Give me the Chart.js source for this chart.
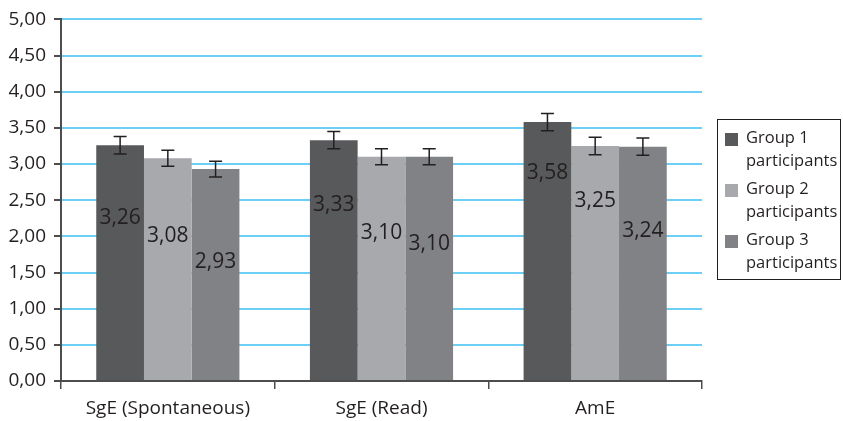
<!DOCTYPE html>
<html>
<head>
<meta charset="utf-8">
<script src="https://cdn.jsdelivr.net/npm/chart.js@4"></script>
<style>
  body { margin: 0; background: #fff; }
  #wrap { position: relative; width: 843px; height: 421px; }
  #legend {
    position: absolute; left: 717px; top: 119px; width: 124px; height: 161px;
    border: 1px solid #231f20; box-sizing: border-box;
    font-family: 'Open Sans', sans-serif; font-size: 16.5px; color: #231f20;
  }
  .item { position: absolute; left: 7px; }
  .sw { position: absolute; left: 0; top: 6px; width: 13px; height: 13px; }
  .txt { position: absolute; left: 21px; top: -2px; line-height: 23px; white-space: nowrap; }
</style>
</head>
<body>
<div id="wrap">
  <canvas id="chart" width="843" height="421"></canvas>
  <div id="legend"></div>
</div>
<script>
const categories = ['SgE (Spontaneous)', 'SgE (Read)', 'AmE'];
const groupNames = ['Group 1', 'Group 2', 'Group 3'];
const group1 = [3.26, 3.33, 3.58];
const group2 = [3.08, 3.10, 3.25];
const group3 = [2.93, 3.10, 3.24];
const group1Err = [0.12, 0.12, 0.12];
const group2Err = [0.11, 0.11, 0.12];
const group3Err = [0.11, 0.11, 0.12];
// where the value labels sit inside the bars, in axis units
const group1LabelAt = [2.26, 2.43, 2.88];
const group2LabelAt = [2.01, 2.05, 2.49];
const group3LabelAt = [1.65, 1.90, 2.07];

const colors = ['#58595b', '#a7a9ac', '#808285'];
const FONT = "'Open Sans', sans-serif";

const fmt = (v) => v.toFixed(2).replace('.', ',');

const errorBars = {
  id: 'errorBars',
  afterDatasetsDraw(chart) {
    const { ctx, scales } = chart;
    const y = scales.y;
    chart.data.datasets.forEach((ds, i) => {
      const meta = chart.getDatasetMeta(i);
      meta.data.forEach((bar, j) => {
        const v = ds.data[j];
        const e = ds.err[j];
        const top = y.getPixelForValue(v + e);
        const bot = y.getPixelForValue(v - e);
        ctx.save();
        ctx.strokeStyle = '#231f20';
        ctx.lineWidth = 1.5;
        ctx.beginPath();
        ctx.moveTo(bar.x, top); ctx.lineTo(bar.x, bot);
        ctx.moveTo(bar.x - 6.5, top); ctx.lineTo(bar.x + 6.5, top);
        ctx.moveTo(bar.x - 6.5, bot); ctx.lineTo(bar.x + 6.5, bot);
        ctx.stroke();
        // value label
        ctx.fillStyle = '#231f20';
        ctx.font = '21px ' + FONT;
        ctx.textAlign = 'center';
        ctx.textBaseline = 'middle';
        ctx.fillText(fmt(v), bar.x, y.getPixelForValue(ds.labelAt[j]));
        ctx.restore();
      });
    });
  }
};

new Chart(document.getElementById('chart'), {
  type: 'bar',
  data: {
    labels: categories,
    datasets: [
      { label: groupNames[0], data: group1, err: group1Err, labelAt: group1LabelAt, backgroundColor: colors[0] },
      { label: groupNames[1], data: group2, err: group2Err, labelAt: group2LabelAt, backgroundColor: colors[1] },
      { label: groupNames[2], data: group3, err: group3Err, labelAt: group3LabelAt, backgroundColor: colors[2] },
    ],
  },
  options: {
    responsive: false,
    animation: false,
    categoryPercentage: 0.67,
    barPercentage: 1,
    layout: { padding: { top: 16, right: 141 } },
    plugins: { legend: { display: false }, tooltip: { enabled: false } },
    scales: {
      x: {
        afterFit: (s) => { s.height = 40; },
        grid: { offset: true, drawOnChartArea: false, tickLength: 8, tickColor: '#4d4d4d', lineWidth: 1.5 },
        border: { color: '#4d4d4d', width: 2 },
        ticks: { color: '#231f20', font: { family: FONT, size: 19 }, padding: 8 },
      },
      y: {
        min: 0,
        max: 5,
        afterFit: (s) => { s.width = 61; },
        grid: { color: '#6dcff6', lineWidth: 2, tickLength: 7, tickColor: '#4d4d4d' },
        border: { color: '#4d4d4d', width: 2 },
        ticks: {
          stepSize: 0.5,
          color: '#231f20',
          font: { family: FONT, size: 19 },
          padding: 8,
          callback: (v) => fmt(v),
        },
      },
    },
  },
  plugins: [errorBars],
});

const legend = document.getElementById('legend');
groupNames.forEach((name, i) => {
  const item = document.createElement('div');
  item.className = 'item';
  item.style.top = (7 + i * 51) + 'px';
  item.innerHTML = `<div class="sw" style="background:${colors[i]}"></div><div class="txt">${name}<br>participants</div>`;
  legend.appendChild(item);
});
</script>
</body>
</html>
